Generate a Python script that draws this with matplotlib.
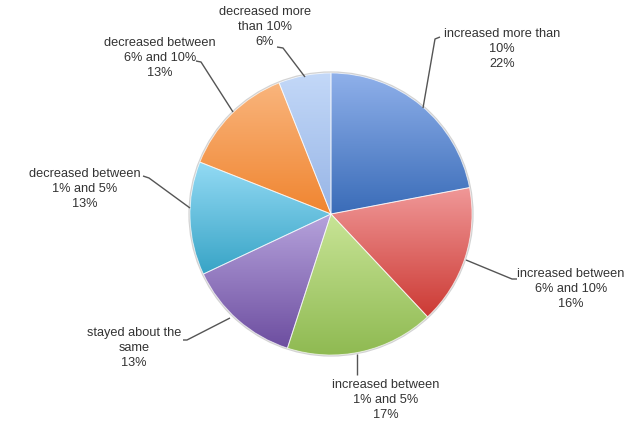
import numpy as np
import matplotlib
matplotlib.use("Agg")
import matplotlib.pyplot as plt
from matplotlib.colors import to_rgb

# 数据
categories = ["increased more than\n10%", "increased between\n6% and 10%",
              "increased between\n1% and 5%", "stayed about the\nsame",
              "decreased between\n1% and 5%", "decreased between\n6% and 10%",
              "decreased more\nthan 10%"]
values = [22, 16, 17, 13, 13, 13, 6]

# 每块的渐变色 (上浅 -> 下深)
top_colors = ["#8fb0ea", "#f09898", "#c8e496", "#b6a3dc", "#93daf4", "#f9b57d", "#c3d8f8"]
bottom_colors = ["#3a6cb8", "#cc3a34", "#8fba52", "#6d4ea0", "#38a4c6", "#f08530", "#97b5e6"]

W, H = 630, 428


def Y(y):
    # 像素坐标(向下)转为数据坐标(向上)
    return H - y


# 标签位置 (像素) 和引线
label_pos = [(502, 49), (571, 289), (386, 400), (134, 348), (85, 189), (160, 58), (265, 27)]
leaders = [
    [(423, 108), (435, 39), (440, 37)],
    [(466, 260), (512, 279), (517, 279)],
    [(357, 354), (357, 375)],
    [(230, 318), (187, 340), (183, 340)],
    [(190, 208), (149, 178), (143, 176)],
    [(233, 112), (201, 62), (196, 61)],
    [(305, 77), (283, 48), (277, 47)],
]

fig = plt.figure(figsize=(W / 100, H / 100), dpi=100)
ax = fig.add_axes([0, 0, 1, 1])
ax.set_xlim(0, W)
ax.set_ylim(0, H)
ax.set_aspect("equal")
ax.axis("off")

cx, cy, r = 331, 214, 141
wedges, _ = ax.pie(values, startangle=90, counterclock=False, center=(cx, Y(cy)), radius=r,
                   colors=["none"] * len(values), frame=True,
                   wedgeprops=dict(edgecolor=(1, 1, 1, 0.6), linewidth=0.7))

for w, c1, c2 in zip(wedges, top_colors, bottom_colors):
    w.set_zorder(3)
    bb = w.get_path().get_extents()
    t = np.linspace(0, 1, 128)[:, None]
    grad = (1 - t) * np.array(to_rgb(c2)) + t * np.array(to_rgb(c1))
    img = ax.imshow(grad[:, None, :], extent=(bb.x0, bb.x1, bb.y0, bb.y1), origin="lower",
                    aspect="auto", interpolation="bilinear", zorder=2)
    img.set_clip_path(w)

# 外圈淡灰阴影
ax.add_patch(plt.Circle((cx, Y(cy)), r + 0.8, fill=False, edgecolor=(0.5, 0.5, 0.5, 0.35),
                        linewidth=1.2, zorder=1))

ax.set_xlim(0, W)
ax.set_ylim(0, H)
ax.axis("off")

for (lx, ly), txt, v in zip(label_pos, categories, values):
    ax.text(lx, Y(ly), "%s\n%d%%" % (txt, v), ha="center", va="center", multialignment="center",
            fontsize=9.2, family="Liberation Sans", color="#333333", linespacing=1.3, zorder=5)

for pts in leaders:
    xs = [p[0] for p in pts]
    ys = [Y(p[1]) for p in pts]
    ax.plot(xs, ys, color="#555555", lw=1, zorder=4, solid_capstyle="butt")

fig.savefig("out.png", dpi=100, facecolor="white")
